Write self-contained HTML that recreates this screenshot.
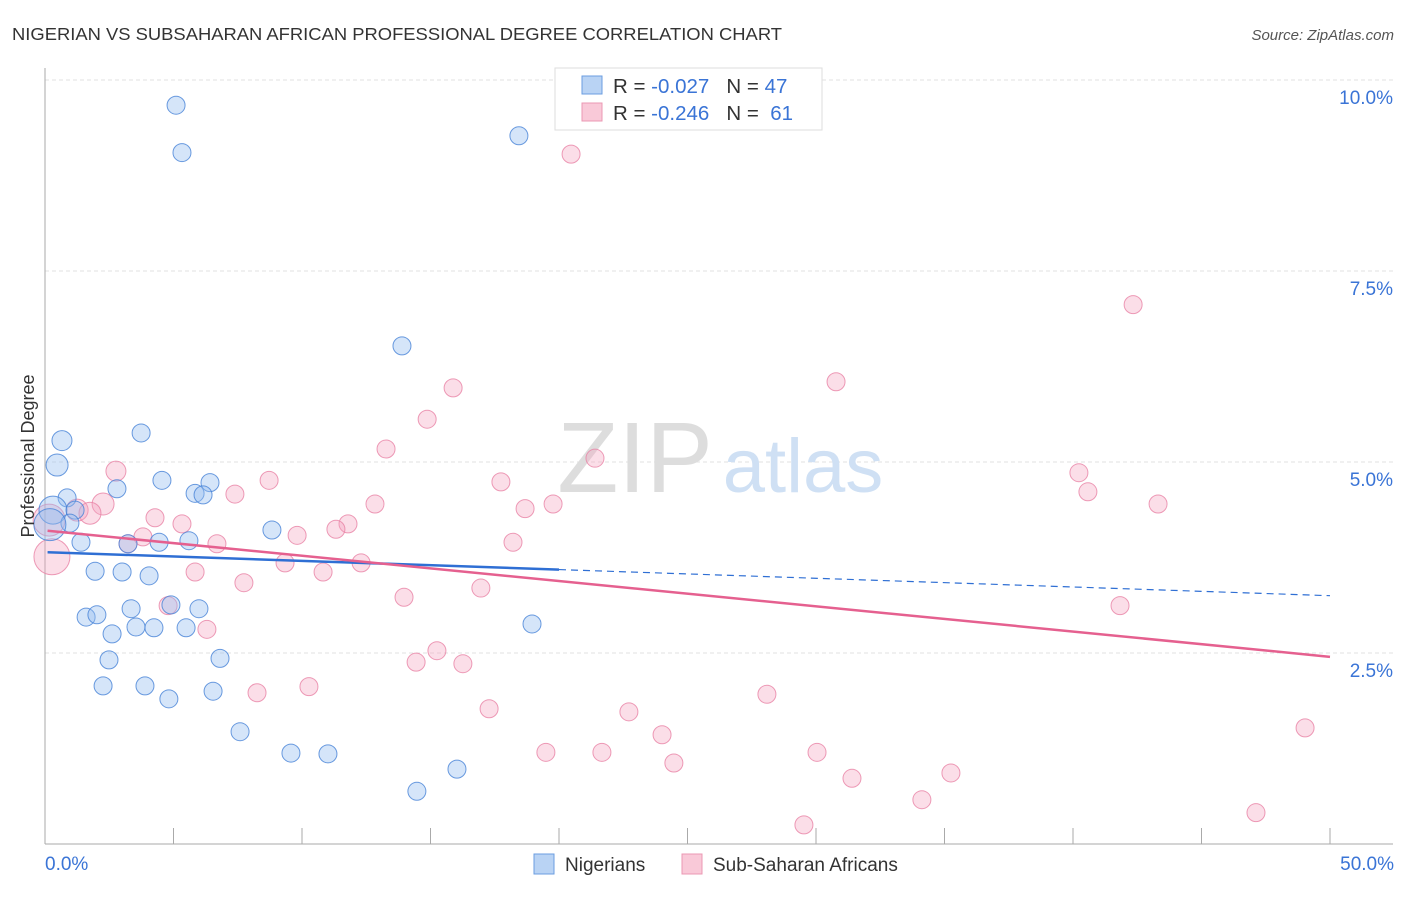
<!DOCTYPE html>
<html><head><meta charset="utf-8"><style>
body{margin:0;background:#fff;font-family:"Liberation Sans",sans-serif}
svg text{font-family:"Liberation Sans",sans-serif}
</style></head><body>
<svg id="chart" width="1406" height="892">
<text x="12" y="40" font-size="17.5" fill="#333" textLength="770" lengthAdjust="spacingAndGlyphs">NIGERIAN VS SUBSAHARAN AFRICAN PROFESSIONAL DEGREE CORRELATION CHART</text>
<text x="1394" y="40" font-size="15" fill="#555" font-style="italic" text-anchor="end">Source: ZipAtlas.com</text>
<g id="grid"></g>
<g><text x="635" y="492" font-size="100" fill="#ddd" font-family="Liberation Serif" text-anchor="middle">ZIP</text><text x="803" y="492" font-size="76" fill="#cfe0f4" text-anchor="middle">atlas</text></g>
<g id="pts"></g>
<g id="trend"></g>
<text transform="translate(34,456) rotate(-90)" font-size="18" fill="#333" text-anchor="middle">Professional Degree</text>
<g>
<rect x="555" y="68" width="267" height="62" fill="#fff" stroke="#ddd"/>
<rect x="582" y="76" width="20" height="18" fill="#b9d3f4" stroke="#6b9ee0"/>
<rect x="582" y="103" width="20" height="18" fill="#f9c9d8" stroke="#eb98b3"/>
<text x="613" y="93" font-size="20.5" fill="#333">R = <tspan fill="#3a74d6">-0.027</tspan>&#160;&#160;&#160;N = <tspan fill="#3a74d6">47</tspan></text>
<text x="613" y="120" font-size="20.5" fill="#333">R = <tspan fill="#3a74d6">-0.246</tspan>&#160;&#160;&#160;N = &#160;<tspan fill="#3a74d6">61</tspan></text>
</g>
<g>
<rect x="534" y="854" width="20" height="20" fill="#b9d3f4" stroke="#6b9ee0"/>
<text x="565" y="871" font-size="19" fill="#333">Nigerians</text>
<rect x="682" y="854" width="20" height="20" fill="#f9c9d8" stroke="#eb98b3"/>
<text x="713" y="871" font-size="19" fill="#333">Sub-Saharan Africans</text>
</g>
</svg>
<script>
const xTicks=[0,5,10,15,20,25,30,35,40,45,50];
const yTicks=[2.5,5,7.5,10];
const yTickLabels=["2.5%","5.0%","7.5%","10.0%"];
const nigX=[5.10,5.33,18.44,13.89,3.74,0.66,0.47,0.86,2.80,4.55,6.42,5.84,6.15,0.31,1.17,0.97,0.19,8.83,1.40,3.23,4.44,5.60,1.95,3.00,4.05,4.90,3.35,5.99,1.60,2.02,2.61,3.54,4.24,5.49,18.95,2.49,6.81,2.26,3.89,4.82,6.54,7.59,9.57,11.01,16.03,14.47];
const nigY=[9.67,9.05,9.27,6.52,5.38,5.28,4.96,4.53,4.65,4.76,4.73,4.59,4.57,4.37,4.37,4.20,4.18,4.11,3.95,3.93,3.95,3.97,3.57,3.56,3.51,3.13,3.08,3.08,2.97,3.00,2.75,2.84,2.83,2.83,2.88,2.41,2.43,2.07,2.07,1.90,2.00,1.47,1.19,1.18,0.98,0.69];
const nigR=[9,9,9,9,9,10,11,9,9,9,9,9,9,14,9,9,16,9,9,9,9,9,9,9,9,9,9,9,9,9,9,9,9,9,9,9,9,9,9,9,9,9,9,9,9,9];
const ssaX=[20.47,42.34,30.78,15.88,14.87,13.27,21.40,2.76,40.23,8.72,17.74,40.58,7.39,43.31,12.84,19.77,2.26,18.68,1.25,1.75,4.28,11.79,5.33,11.32,9.81,3.81,3.23,6.69,18.21,0.27,9.34,12.30,5.84,10.82,7.74,16.96,13.97,4.79,41.83,6.30,15.25,14.44,16.26,8.25,10.27,28.09,17.28,22.72,24.01,19.49,21.67,30.04,24.47,49.03,31.40,35.25,34.12,29.53,47.12,0.16];
const ssaY=[9.03,7.06,6.05,5.97,5.56,5.17,5.05,4.88,4.86,4.76,4.74,4.61,4.58,4.45,4.45,4.45,4.45,4.39,4.37,4.33,4.27,4.19,4.19,4.12,4.04,4.02,3.93,3.93,3.95,3.76,3.68,3.68,3.56,3.56,3.42,3.35,3.23,3.12,3.12,2.81,2.53,2.38,2.36,1.98,2.06,1.96,1.77,1.73,1.43,1.20,1.20,1.20,1.06,1.52,0.86,0.93,0.58,0.25,0.41,4.24];
const ssaR=[9,9,9,9,9,9,9,10,9,9,9,9,9,9,9,9,11,9,11,11,9,9,9,9,9,9,9,9,9,18,9,9,9,9,9,9,9,9,9,9,9,9,9,9,9,9,9,9,9,9,9,9,9,9,9,9,9,9,9,16];
const nigTrend=[3.82,3.25], ssaTrend=[4.10,2.45];
const X=v=>45+v/50*1285, Y=v=>844-v*76.4;
const NS="http://www.w3.org/2000/svg";
function mk(t,a,p){const e=document.createElementNS(NS,t);for(const k in a)e.setAttribute(k,a[k]);p.appendChild(e);return e;}
const g=document.getElementById('grid');
yTicks.forEach((t,i)=>{
 const l=mk('line',{x1:45,x2:1393,y1:Y(t),y2:Y(t),stroke:'#e2e2e2','stroke-dasharray':'4,3'},g);
 
 
 const tx=mk('text',{x:1393,y:Y(t)+24,'font-size':19,fill:'#3a74d6','text-anchor':'end'},g);
 tx.textContent=yTickLabels[i];
 
 
});
const ax=mk('line',{x1:45,x2:45,y1:68,y2:844,stroke:'#aaa'},g);


const bx=mk('line',{x1:45,x2:1393,y1:844,y2:844,stroke:'#aaa'},g);


xTicks.forEach(t=>{
 const l=mk('line',{x1:X(t),x2:X(t),y1:828,y2:844,stroke:'#aaa'},g);
 
 
});
[[0,'0.0%','start',45],[50,'50.0%','end',1394]].forEach(d=>{
 const tx=mk('text',{x:d[3],y:870,'font-size':19,fill:'#3a74d6','text-anchor':d[2]},g);
 tx.textContent=d[1];
 
 
});
const p=document.getElementById('pts');
ssaX.forEach((v,i)=>{
 const c=mk('circle',{cx:X(v),cy:Y(ssaY[i]),r:ssaR[i],fill:'rgba(244,160,188,0.35)',stroke:'rgba(232,130,165,0.8)','stroke-width':1},p);
 
 
});
nigX.forEach((v,i)=>{
 const c=mk('circle',{cx:X(v),cy:Y(nigY[i]),r:nigR[i],fill:'rgba(150,190,240,0.4)',stroke:'rgba(70,130,215,0.8)','stroke-width':1},p);
 
 
});
const tr=document.getElementById('trend');
const ny=x=>nigTrend[0]+(nigTrend[1]-nigTrend[0])*x/50;
const l1=mk('line',{x1:X(0.1),y1:Y(ny(0.1)),x2:X(20),y2:Y(ny(20)),stroke:'#2f6fd4','stroke-width':2.5},tr);


const l2=mk('line',{x1:X(20),y1:Y(ny(20)),x2:X(50),y2:Y(ny(50)),stroke:'#2f6fd4','stroke-width':1.2,'stroke-dasharray':'7,5'},tr);


const l3=mk('line',{x1:X(0.1),y1:Y(ssaTrend[0]),x2:X(50),y2:Y(ssaTrend[1]),stroke:'#e5608f','stroke-width':2.5},tr);


</script>
</body></html>
